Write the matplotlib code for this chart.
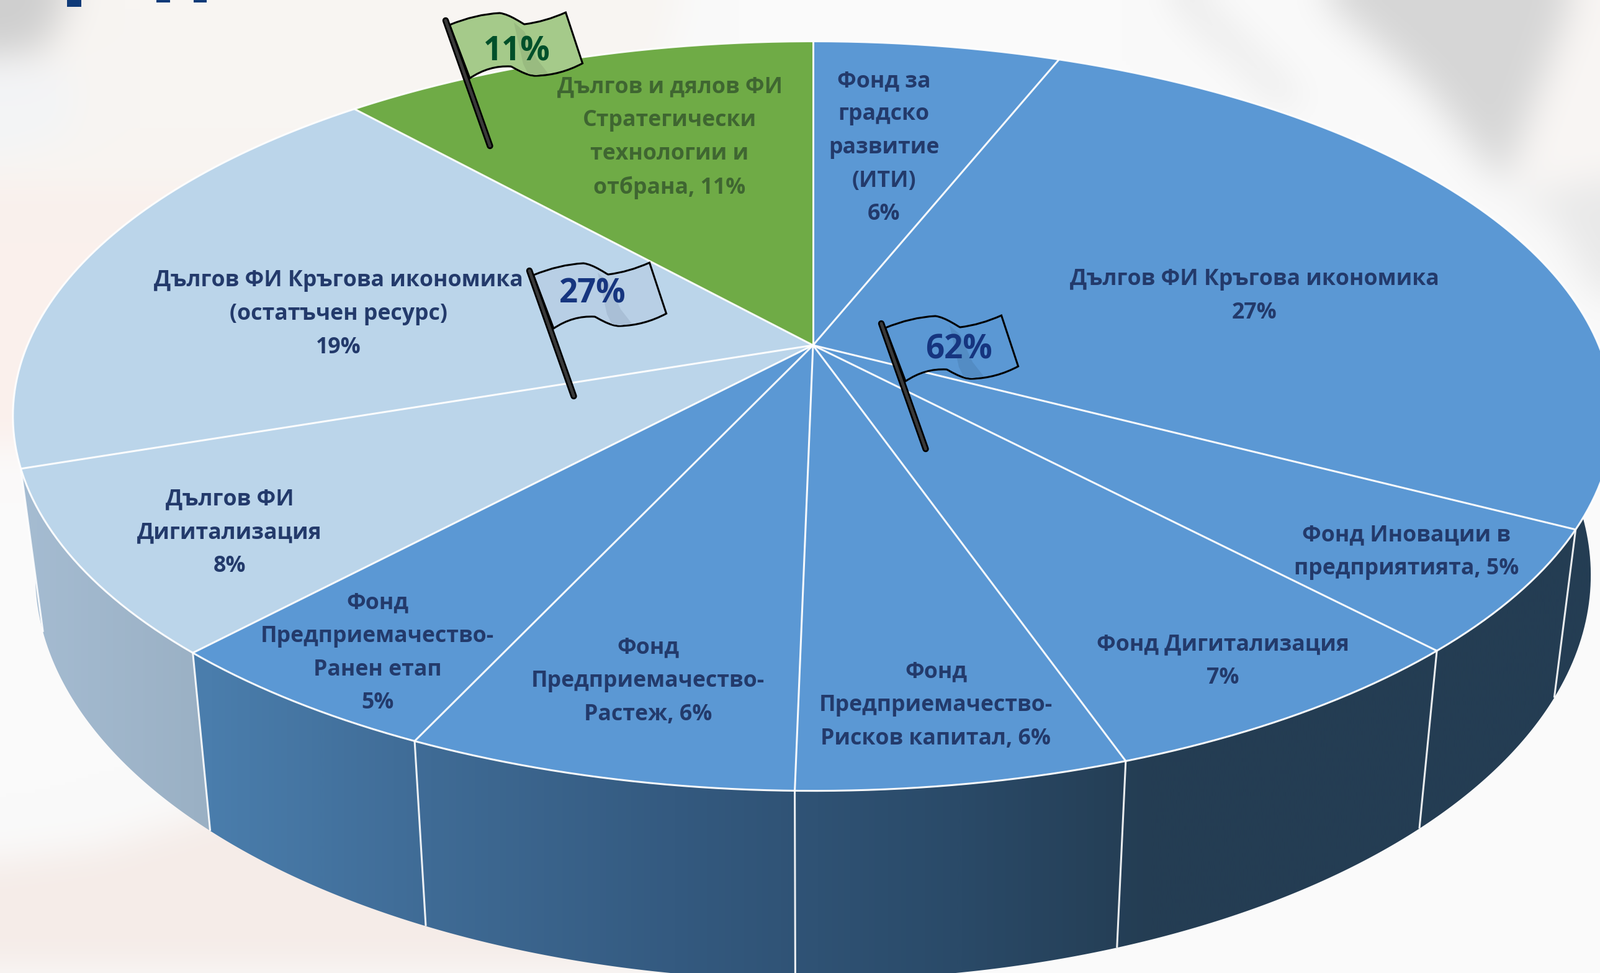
import numpy as np
import matplotlib
matplotlib.use('Agg')
import matplotlib.pyplot as plt
from matplotlib.colors import LinearSegmentedColormap, to_rgb
from matplotlib.patches import Polygon, PathPatch, Rectangle
from matplotlib.path import Path

W, H = 2578, 1567

# shares (the printed labels are rounded)
shares = [6.0, 26.7, 5.3, 6.7, 5.6, 6.6, 5.0, 7.9, 18.6, 11.6]
labels = [
    "Фонд за\nградско\nразвитие\n(ИТИ)\n6%",
    "Дългов ФИ Кръгова икономика\n27%",
    "Фонд Иновации в\nпредприятията, 5%",
    "Фонд Дигитализация\n7%",
    "Фонд\nПредприемачество-\nРисков капитал, 6%",
    "Фонд\nПредприемачество-\nРастеж, 6%",
    "Фонд\nПредприемачество-\nРанен етап\n5%",
    "Дългов ФИ\nДигитализация\n8%",
    "Дългов ФИ Кръгова икономика\n(остатъчен ресурс)\n19%",
    "Дългов и дялов ФИ\nСтратегически\nтехнологии и\nотбрана, 11%",
]
groups = ["fund", "fund", "fund", "fund", "fund", "fund", "fund", "debt", "debt", "green"]
flag_texts = ["11%", "27%", "62%"]

BLUE = "#5b98d4"
LIGHT = "#bbd5ea"
GREEN = "#6fab46"
face_colors = {"fund": BLUE, "debt": LIGHT, "green": GREEN}
wall_maps = {
    "fund": LinearSegmentedColormap.from_list("fund", [(0, "#4c80b0"), (0.13, "#4a7dac"), (0.27, "#3f6b95"),
                                                      (0.42, "#345a80"), (0.6, "#2a4a68"), (0.72, "#243d53"), (1, "#243d53")]),
    "debt": LinearSegmentedColormap.from_list("debt", [(0, "#a6bdd3"), (0.13, "#9ab0c4"), (1, "#9ab0c4")]),
    "green": LinearSegmentedColormap.from_list("green", [(0, "#4c7a30"), (1, "#4c7a30")]),
}

# perspective of the pie disc
CX, CY = 1310, 556
RX, RY, TILT = 1266, 582, 0.189
BOTTOM_SX, BOTTOM_SY, DEPTH = 0.972, 1.08, 247


def project(share_pos, bottom=False):
    a = np.radians(np.asarray(share_pos, dtype=float) * 3.6)
    x, y = np.sin(a), np.cos(a)
    d = 1 + TILT * y
    sx, sy = RX * x / d, -RY * y / d
    if bottom:
        return CX + BOTTOM_SX * sx, CY + DEPTH + BOTTOM_SY * sy
    return CX + sx, CY + sy


def blur(img, sigma):
    r = int(3 * sigma)
    kernel = np.exp(-0.5 * (np.arange(-r, r + 1) / sigma) ** 2)
    kernel /= kernel.sum()
    pad = np.pad(img, ((r, r), (r, r), (0, 0)), mode='edge')
    pad = np.apply_along_axis(lambda v: np.convolve(v, kernel, mode='same'), 0, pad)
    pad = np.apply_along_axis(lambda v: np.convolve(v, kernel, mode='same'), 1, pad)
    return pad[r:-r, r:-r]


fig = plt.figure(figsize=(W / 100, H / 100), dpi=100)
ax = fig.add_axes([0, 0, 1, 1])
ax.set_xlim(0, W)
ax.set_ylim(H, 0)
ax.axis('off')

# washed-out photo behind the chart, soft shapes on a coarse grid
bg_shapes = [
    ("#f8f5f2", [(90, 0), (1100, 0), (1000, 300), (600, 600), (0, 600), (0, 150)]),
    ("#cfcfcf", [(0, 0), (110, 0), (70, 80), (0, 90)]),
    ("#f3f4f6", [(0, 110), (130, 110), (110, 220), (0, 250)]),
    ("#faf0ec", [(0, 300), (420, 300), (300, 720), (0, 720)]),
    ("#d6d6d6", [(1900, 0), (1925, 0), (2095, 165), (2075, 170)]),
    ("#d6d6d6", [(2137, 0), (2534, 0), (2425, 300), (2290, 130)]),
    ("#f9f6f4", [(2534, 0), (2578, 0), (2578, 290), (2440, 300)]),
    ("#e9e9e9", [(2430, 320), (2578, 290), (2578, 480), (2500, 350)]),
    ("#f5ece8", [(0, 1390), (160, 1370), (420, 1290), (640, 1320), (800, 1430), (1120, 1480), (1120, 1567), (0, 1567)]),
]
bg_step = 6
gx, gy = np.meshgrid(np.arange(0, W, bg_step) + bg_step / 2, np.arange(0, H, bg_step) + bg_step / 2)
cells = np.column_stack([gx.ravel(), gy.ravel()])
bg = np.ones(gx.shape + (3,)) * to_rgb("#fafafa")
for color, verts in bg_shapes:
    bg[Path(verts).contains_points(cells).reshape(gx.shape)] = to_rgb(color)
ax.imshow(blur(bg, 5), extent=(0, W, H, 0), aspect='auto', interpolation='bilinear', zorder=0)

# bits of the cropped slide title
for left, right, bottom in [(108, 131, 11), (252, 274, 4), (312, 333, 4)]:
    ax.add_patch(Rectangle((left, 0), right - left, bottom, color="#0f3a78", lw=0, zorder=1))

edges = np.concatenate([[0], np.cumsum(shares)])
edges[-1] = 100

# side walls
for i, group in enumerate(groups):
    t = np.linspace(edges[i], edges[i + 1], 120)
    tx, ty = project(t)
    bx, by = project(t, bottom=True)
    poly = Polygon(np.column_stack([np.r_[tx, bx[::-1]], np.r_[ty, by[::-1]]]), closed=True,
                   transform=ax.transData, fc='none', ec='none')
    ax.add_patch(poly)
    im = ax.imshow(np.linspace(0, 1, 1024)[None, :], cmap=wall_maps[group], extent=(0, W, H, 0),
                   aspect='auto', zorder=2)
    im.set_clip_path(poly)

for pos in edges[2:9]:
    tx, ty = project(pos)
    bx, by = project(pos, bottom=True)
    ax.plot([tx, bx], [ty, by], color="white", lw=2.2, alpha=0.9, zorder=3, solid_capstyle='butt')

# top face
for i, group in enumerate(groups):
    t = np.linspace(edges[i], edges[i + 1], 120)
    tx, ty = project(t)
    ax.fill(np.r_[CX, tx], np.r_[CY, ty], color=face_colors[group], lw=0, zorder=4)
for pos in edges[:-1]:
    tx, ty = project(pos)
    ax.plot([CX, tx], [CY, ty], color="white", lw=2.2, alpha=0.95, zorder=5, solid_capstyle='butt')
t = np.linspace(0, 100, 720)
tx, ty = project(t)
ax.plot(tx, ty, color="white", lw=2.2, alpha=0.95, zorder=5)

# slice labels
label_xy = [(1424, 238), (2021, 477), (2266, 889), (1970, 1065), (1508, 1136),
            (1044, 1097), (608, 1052), (370, 858), (545, 506), (1079, 222)]
label_colors = {"fund": "#233a6b", "debt": "#233a6b", "green": "#3f6631"}
for text, (x, y), group in zip(labels, label_xy, groups):
    ax.text(x, y, text, ha='center', va='center', fontsize=25.7, family='Open Sans', fontweight='bold',
            color=label_colors[group], linespacing=1.65, zorder=6)

# flags
FLAG_CODES = [Path.MOVETO, Path.CURVE3, Path.CURVE3, Path.CURVE4, Path.CURVE4, Path.CURVE4,
              Path.CURVE3, Path.CURVE3, Path.LINETO, Path.CURVE3, Path.CURVE3,
              Path.CURVE4, Path.CURVE4, Path.CURVE4, Path.CURVE3, Path.CURVE3, Path.CLOSEPOLY]
FLAG_SHAPE = np.array([(6.5, 7), (48, -10), (87, -12), (104, -10), (125, 6), (127, 6), (160, 2), (193.5, -13),
                       (220.6, 69), (185, 88), (146, 89), (130, 90), (107, 74), (105, 74), (70, 72), (39, 93),
                       (6.5, 7)], dtype=float)
FOLD_SHAPE = np.array([(110, 3), (116, 30), (125, 70), (133, 86), (146, 88), (165, 85), (147, 62), (127, 18), (110, 3)],
                      dtype=float)

flag_pos = [(718, 33), (853, 436), (1420, 521)]
flag_fill = ["#a5ca8a", "#b8cfe5", "#5b98d4"]
flag_fold = ["#99bb80", "#a9bfd6", "#538cc4"]
flag_text_xy = [(833, 84), (955, 474), (1545, 564)]
flag_text_col = ["#00502a", "#16357f", "#16357f"]
for (px, py), fill, fold, txt, (tx0, ty0), col in zip(flag_pos, flag_fill, flag_fold, flag_texts,
                                                      flag_text_xy, flag_text_col):
    ax.add_patch(PathPatch(Path(FLAG_SHAPE + (px, py), FLAG_CODES), fc=fill, ec='black', lw=2.2, zorder=7))
    ax.fill(FOLD_SHAPE[:, 0] + px, FOLD_SHAPE[:, 1] + py, color=fold, lw=0, zorder=7)
    ax.plot([px, px + 71.5], [py, py + 202], color='black', lw=7.5, solid_capstyle='round', zorder=8)
    ax.plot([px, px + 71.5], [py, py + 202], color='#3a3a3a', lw=3.5, solid_capstyle='round', zorder=8)
    ax.text(tx0, ty0, txt, ha='center', va='center', fontsize=38, family='Open Sans', fontweight='bold',
            color=col, zorder=9)

ax.set_xlim(0, W)
ax.set_ylim(H, 0)
fig.savefig("out.png", dpi=100)
